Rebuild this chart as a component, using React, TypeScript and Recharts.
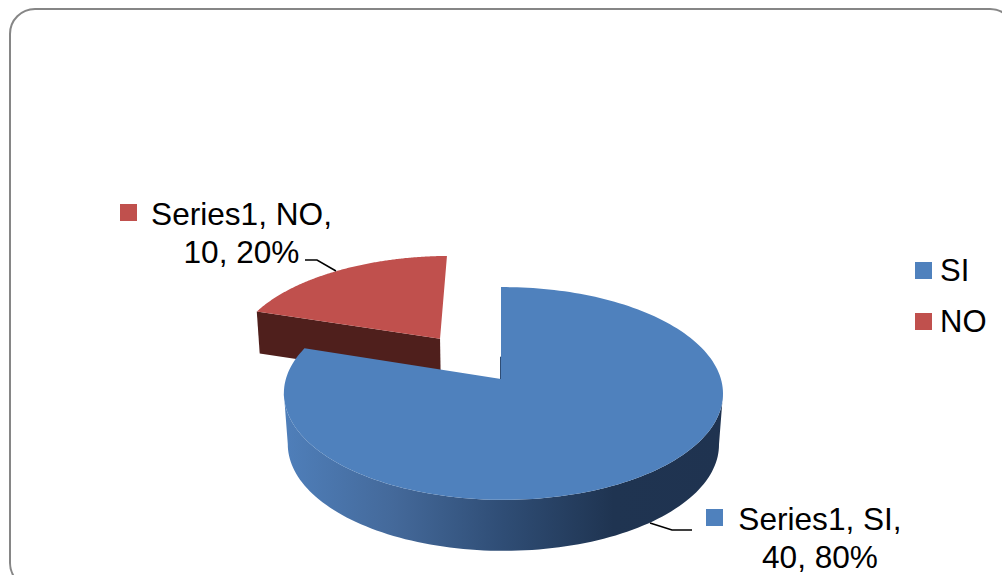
import { Legend, Pie, PieChart } from 'recharts';

const WIDTH = 1002;
const HEIGHT = 575;

// NO comes first so its wedge is painted underneath SI
const categories = ['NO', 'SI'];
const values = [10, 40];
const colors = ['#c0504d', '#4f81bd'];
const seriesName = 'Series1';
const legendOrder = ['SI', 'NO'];

const pieData = categories.map((name, i) => ({ name, value: values[i], fill: colors[i] }));

// Pie centre and perspective of the disc
const CX = 501;
const CY = 379;
const RADIUS = 217.5;
const FLATTEN = 0.48;
const PERSPECTIVE_Y = 0.136;
const PERSPECTIVE_X = 0.011;

const sliceStyle: Record<string, { explode: number; depth: number; shrink: number }> = {
  SI: { explode: 0, depth: 51, shrink: 0.982 },
  NO: { explode: 0.505, depth: 42, shrink: 0.988 },
};

const labelStyle: Record<string, { x: number; y: number; squareX: number; squareY: number; leader: string }> = {
  NO: { x: 241.5, y: 225, squareX: 120, squareY: 204, leader: 'M305 260 L317 260 L336 271' },
  SI: { x: 820, y: 530, squareX: 706, squareY: 509, leader: 'M650 523 L672 530 L692 530' },
};

type Pt = [number, number];

const rad = (deg: number) => (deg * Math.PI) / 180;

// unit disc -> screen, the far side of the disc gets smaller
function project(cx: number, cy: number, r: number, u: number, v: number): Pt {
  const w = 1 + PERSPECTIVE_Y * v - PERSPECTIVE_X * u;
  return [cx + (r * u) / w, cy - (r * FLATTEN * v) / w];
}

const toPath = (pts: Pt[]) =>
  pts.map((p, i) => `${i === 0 ? 'M' : 'L'}${p[0].toFixed(2)} ${p[1].toFixed(2)}`).join(' ') + ' Z';

function Slice3D(props: any) {
  const { cx, cy, outerRadius, startAngle, endAngle, fill, name } = props;
  const { explode, depth, shrink } = sliceStyle[name];
  const mid = rad((startAngle + endAngle) / 2);
  const ou = explode * Math.cos(mid);
  const ov = explode * Math.sin(mid);

  const steps = 180;
  const rim: Pt[] = [];
  for (let i = 0; i <= steps; i++) {
    const a = rad(startAngle + ((endAngle - startAngle) * i) / steps);
    rim.push(project(cx, cy, outerRadius, ou + Math.cos(a), ov + Math.sin(a)));
  }
  const apex = project(cx, cy, outerRadius, ou, ov);
  const drop = (p: Pt): Pt => [cx + (p[0] - cx) * shrink, p[1] + depth];

  const top = toPath([apex, ...rim]);

  if (name === 'SI') {
    // the wall only needs the front of the rim, rightmost point round to leftmost
    const xs = rim.map((p) => p[0]);
    const right = xs.indexOf(Math.max(...xs));
    const left = xs.indexOf(Math.min(...xs));
    const front = rim.slice(right, left + 1);
    const wall = toPath([...front, ...front.slice().reverse().map(drop)]);
    const edge = project(cx, cy, outerRadius, 0, 0.22);
    return (
      <g>
        <defs>
          <linearGradient id="wallSI" x1="0" y1="0" x2="1" y2="0">
            <stop offset="0%" stopColor="#4f7fba" />
            <stop offset="25%" stopColor="#44699a" />
            <stop offset="50%" stopColor="#2f4d75" />
            <stop offset="75%" stopColor="#1f3451" />
            <stop offset="100%" stopColor="#1f3350" />
          </linearGradient>
        </defs>
        <path d={wall} fill="url(#wallSI)" />
        <path d={top} fill={fill} />
        <path d={`M${edge[0] - 0.5} ${edge[1]} L${apex[0] - 0.5} ${apex[1]}`} stroke="#2f4d75" strokeWidth={1} />
      </g>
    );
  }

  // only the cut face of the small wedge shows
  const outer = rim[0];
  const cut = toPath([outer, apex, drop(apex), drop(outer)]);
  return (
    <g>
      <path d={cut} fill="#4f1f1c" />
      <path d={top} fill={fill} />
    </g>
  );
}

function renderLabel(props: any) {
  const { name, value, percent, fill } = props;
  const pos = labelStyle[name];
  return (
    <g>
      <path d={pos.leader} fill="none" stroke="#000" strokeWidth={1.5} />
      <rect x={pos.squareX} y={pos.squareY} width={17} height={17} fill={fill} />
      <text
        x={pos.x}
        y={pos.y}
        textAnchor="middle"
        fontFamily="'Liberation Sans', Arial, sans-serif"
        fontSize={31.6}
        fill="#000"
      >
        <tspan x={pos.x}>{`${seriesName}, ${name},`}</tspan>
        <tspan x={pos.x} dy={38}>{`${value}, ${Math.round(percent * 100)}%`}</tspan>
      </text>
    </g>
  );
}

function renderLegend(props: any) {
  const items = legendOrder.map((n) => props.payload.find((p: any) => p.value === n)).filter(Boolean);
  return (
    <div style={{ fontFamily: "'Liberation Sans', Arial, sans-serif", fontSize: 31, color: '#000' }}>
      {items.map((item: any) => (
        <div key={item.value} style={{ display: 'flex', alignItems: 'center', height: 51 }}>
          <span style={{ width: 17, height: 17, background: item.color, marginRight: 8 }} />
          <span>{item.value}</span>
        </div>
      ))}
    </div>
  );
}

export default function App() {
  return (
    <div
      style={{
        position: 'absolute',
        left: 0,
        top: 0,
        width: WIDTH,
        height: HEIGHT,
        overflow: 'hidden',
        background: '#fff',
      }}
    >
      {/* rounded slide frame, runs off the right and bottom */}
      <div
        style={{
          position: 'absolute',
          left: 9,
          top: 8,
          width: 1003,
          height: 577,
          border: '2px solid #868686',
          borderRadius: 26,
        }}
      />
      <PieChart
        width={WIDTH}
        height={HEIGHT}
        margin={{ top: 0, right: 0, bottom: 0, left: 0 }}
        style={{ position: 'absolute', left: 0, top: 0 }}
      >
        <Pie
          data={pieData}
          dataKey="value"
          nameKey="name"
          cx={CX}
          cy={CY}
          innerRadius={0}
          outerRadius={RADIUS}
          startAngle={162}
          endAngle={-198}
          stroke="none"
          shape={Slice3D}
          label={renderLabel}
          labelLine={false}
          isAnimationActive={false}
        />
        <Legend
          content={renderLegend}
          layout="vertical"
          wrapperStyle={{ position: 'absolute', left: 915, top: 245, width: 87 }}
        />
      </PieChart>
    </div>
  );
}
